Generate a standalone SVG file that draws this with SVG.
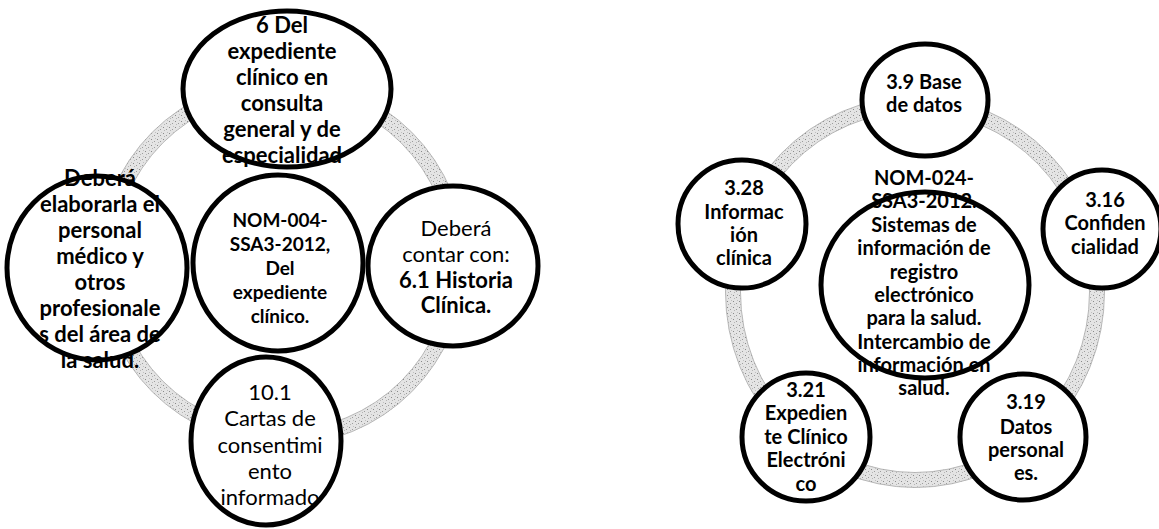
<svg xmlns="http://www.w3.org/2000/svg" width="1159" height="529" viewBox="0 0 1159 529">
<defs>
<pattern id="stip" width="6" height="6" patternUnits="userSpaceOnUse">
<rect width="6" height="6" fill="#e4e4e4"/>
<rect x="1" y="1" width="1" height="1" fill="#8a8a8a"/>
<rect x="4" y="3" width="1" height="1" fill="#9c9c9c"/>
<rect x="2" y="4" width="1" height="1" fill="#b5b5b5"/>
<rect x="5" y="0" width="1" height="1" fill="#c0c0c0"/>
</pattern>
</defs>
<style>
.node{fill:#fff;stroke:#000;stroke-width:5}
.ring{fill:none;stroke:url(#stip);stroke-width:15}
.edge{fill:none;stroke:#a8a8a8;stroke-width:0.8}
text{font-family:Lato,"Liberation Sans",sans-serif;text-anchor:middle;fill:#000}
.b{font-weight:700}
.l{font-size:22px}
.m{font-size:19px}
.s{font-size:20px}
</style>
<rect width="1159" height="529" fill="#fff"/>
<g id="connectors">
<circle class="ring" cx="282" cy="262" r="176"/>
<circle class="edge" cx="282" cy="262" r="183.5"/>
<circle class="edge" cx="282" cy="262" r="168.5"/>
<ellipse class="ring" cx="915" cy="292" rx="182" ry="188"/>
<ellipse class="edge" cx="915" cy="292" rx="189.5" ry="195.5"/>
<ellipse class="edge" cx="915" cy="292" rx="174.5" ry="180.5"/>
</g>
<g id="n-top-left">
<ellipse class="node" cx="287" cy="89" rx="104" ry="78"/>
<text class="l b" x="282"><tspan x="282" y="33">6 Del</tspan><tspan x="282" y="59">expediente</tspan><tspan x="282" y="85">clínico en</tspan><tspan x="282" y="111">consulta</tspan><tspan x="282" y="137">general y de</tspan><tspan x="282" y="163">especialidad</tspan></text>
</g>
<g id="n-center-left">
<ellipse class="node" cx="278" cy="263" rx="85" ry="88"/>
<text class="m b" x="280"><tspan x="280" y="227">NOM-004-</tspan><tspan x="280" y="251">SSA3-2012,</tspan><tspan x="280" y="275">Del</tspan><tspan x="280" y="299">expediente</tspan><tspan x="280" y="323">clínico.</tspan></text>
</g>
<g id="n-right-left">
<ellipse class="node" cx="453" cy="266" rx="85" ry="80"/>
<text class="l" x="456"><tspan x="456" y="236">Deberá</tspan><tspan x="456" y="262">contar con:</tspan><tspan class="b" x="456" y="288">6.1 Historia</tspan><tspan class="b" x="456" y="313">Clínica.</tspan></text>
</g>
<g id="n-left-left">
<ellipse class="node" cx="97" cy="268" rx="90" ry="92"/>
<text class="l b" x="100"><tspan x="100" y="186">Deberá</tspan><tspan x="100" y="212">elaborarla el</tspan><tspan x="100" y="238">personal</tspan><tspan x="100" y="264">médico y</tspan><tspan x="100" y="290">otros</tspan><tspan x="100" y="316">profesionale</tspan><tspan x="100" y="342">s del área de</tspan><tspan x="100" y="368">la salud.</tspan></text>
</g>
<g id="n-bottom-left">
<ellipse class="node" cx="266" cy="441" rx="75" ry="84"/>
<text class="l" x="270"><tspan x="270" y="400">10.1</tspan><tspan x="270" y="426">Cartas de</tspan><tspan x="270" y="453">consentimi</tspan><tspan x="270" y="479">ento</tspan><tspan x="270" y="505">informado</tspan></text>
</g>
<g id="n-top-right">
<ellipse class="node" cx="925" cy="100" rx="63" ry="56"/>
<text class="s b" x="924"><tspan x="924" y="89">3.9 Base</tspan><tspan x="924" y="112">de datos</tspan></text>
</g>
<g id="n-left-right">
<circle class="node" cx="742" cy="224" r="64"/>
<text class="s b" x="744"><tspan x="744" y="195">3.28</tspan><tspan x="744" y="219">Informac</tspan><tspan x="744" y="242">ión</tspan><tspan x="744" y="265">clínica</tspan></text>
</g>
<g id="n-right-right">
<circle class="node" cx="1102" cy="229" r="59"/>
<text class="s b" x="1105"><tspan x="1105" y="207">3.16</tspan><tspan x="1105" y="230">Confiden</tspan><tspan x="1105" y="254">cialidad</tspan></text>
</g>
<g id="n-bl-right">
<circle class="node" cx="806" cy="437" r="64"/>
<text class="s b" x="806"><tspan x="806" y="397">3.21</tspan><tspan x="806" y="420">Expedien</tspan><tspan x="806" y="444">te Clínico</tspan><tspan x="806" y="467">Electróni</tspan><tspan x="806" y="491">co</tspan></text>
</g>
<g id="n-br-right">
<circle class="node" cx="1023" cy="437" r="63"/>
<text class="s b" x="1026"><tspan x="1026" y="409">3.19</tspan><tspan x="1026" y="434">Datos</tspan><tspan x="1026" y="457">personal</tspan><tspan x="1026" y="480">es.</tspan></text>
</g>
<g id="n-center-right">
<ellipse class="node" cx="925" cy="285" rx="104" ry="93"/>
<text class="s b" x="924"><tspan x="924" y="185">NOM-024-</tspan><tspan x="924" y="208">SSA3-2012.</tspan><tspan x="924" y="232">Sistemas de</tspan><tspan x="924" y="255">información de</tspan><tspan x="924" y="279">registro</tspan><tspan x="924" y="302">electrónico</tspan><tspan x="924" y="325">para la salud.</tspan><tspan x="924" y="349">Intercambio de</tspan><tspan x="924" y="372">información en</tspan><tspan x="924" y="395">salud.</tspan></text>
</g>
</svg>
